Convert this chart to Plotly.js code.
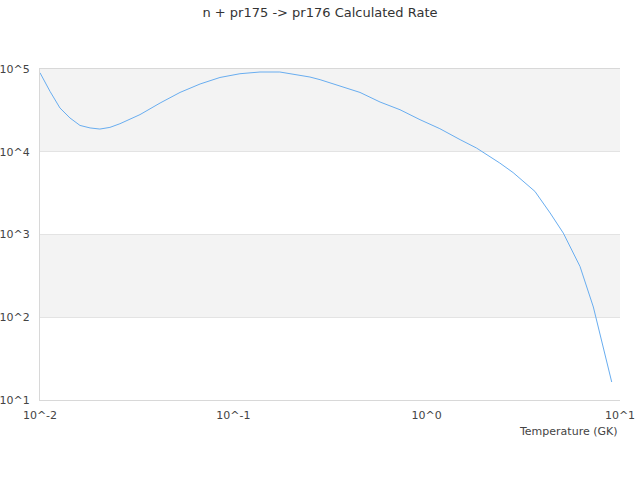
<!DOCTYPE html>
<html>
<head>
<meta charset="utf-8">
<script src="https://cdn.plot.ly/plotly-3.0.1.min.js"></script>
<style>html,body{margin:0;padding:0;background:#fff;}#chart{width:640px;height:480px;}</style>
</head>
<body>
<div id="chart"></div>
<script>
var temperatureGK = [0.01, 0.01127, 0.01268, 0.01429, 0.0161, 0.01815, 0.0204, 0.023, 0.0259, 0.0329, 0.0418, 0.053, 0.0673, 0.0853, 0.1082, 0.1374, 0.174, 0.196, 0.221, 0.249, 0.281, 0.356, 0.452, 0.574, 0.728, 0.924, 1.17, 1.49, 1.81, 2.39, 2.8, 3.63, 4.35, 5.09, 6.21, 7.28, 9.06];
var rate = [90000, 53600, 33800, 25600, 20800, 19400, 18800, 19700, 21800, 28100, 38800, 52100, 65900, 79000, 87700, 92000, 92000, 87700, 85300, 80000, 74300, 62800, 52100, 39900, 32200, 24400, 19000, 14000, 11100, 7300, 5600, 3320, 1820, 1040, 411, 133, 16.5];
var xTickVals = [0.01, 0.1, 1, 10];
var xTickText = ["10^-2", "10^-1", "10^0", "10^1"];
var yTickVals = [10, 100, 1000, 10000, 100000];
var yTickText = ["10^1", "10^2", "10^3", "10^4", "10^5"];
var bandLow = [100, 10000];
var bandHigh = [1000, 100000];

var shapes = bandLow.map(function (lo, i) {
  return {type: 'rect', xref: 'paper', yref: 'y', x0: 0, x1: 1, y0: lo, y1: bandHigh[i],
          fillcolor: '#f3f3f3', line: {width: 0}, layer: 'below'};
});

var trace = {
  x: temperatureGK, y: rate, type: 'scatter', mode: 'lines',
  line: {color: '#68adf0', width: 1}, hoverinfo: 'x+y'
};

var layout = {
  width: 640, height: 480,
  margin: {l: 40, r: 20, t: 69, b: 80},
  paper_bgcolor: '#ffffff', plot_bgcolor: 'rgba(0,0,0,0)',
  font: {family: 'DejaVu Sans, sans-serif', size: 11, color: '#444'},
  title: {text: 'n + pr175 -> pr176 Calculated Rate', x: 0.5, xanchor: 'center', y: 0.975, yanchor: 'middle',
          font: {family: 'DejaVu Sans, sans-serif', size: 13, color: '#333'}},
  showlegend: false,
  shapes: shapes,
  xaxis: {type: 'log', range: [-2, 1], tickmode: 'array', tickvals: xTickVals, ticktext: xTickText,
          showgrid: false, zeroline: false, showline: true, linecolor: '#d8d8d8', linewidth: 1, mirror: true,
          ticks: 'outside', ticklen: 5, tickcolor: 'rgba(255,255,255,0)', tickfont: {size: 11, color: '#444'}},
  yaxis: {type: 'log', range: [1, 5], tickmode: 'array', tickvals: yTickVals, ticktext: yTickText,
          showgrid: true, gridcolor: '#e3e3e3', gridwidth: 1, zeroline: false, showline: true,
          linecolor: '#d8d8d8', linewidth: 1, ticks: 'outside', ticklen: 7, tickcolor: 'rgba(255,255,255,0)',
          tickfont: {size: 11, color: '#444'}},
  annotations: [{text: 'Temperature (GK)', xref: 'paper', yref: 'paper', x: 1, y: -0.094,
                 xanchor: 'right', yanchor: 'middle', showarrow: false,
                 font: {family: 'DejaVu Sans, sans-serif', size: 11, color: '#444'}}]
};

Plotly.newPlot('chart', [trace], layout, {displayModeBar: false, staticPlot: true});
</script>
</body>
</html>
